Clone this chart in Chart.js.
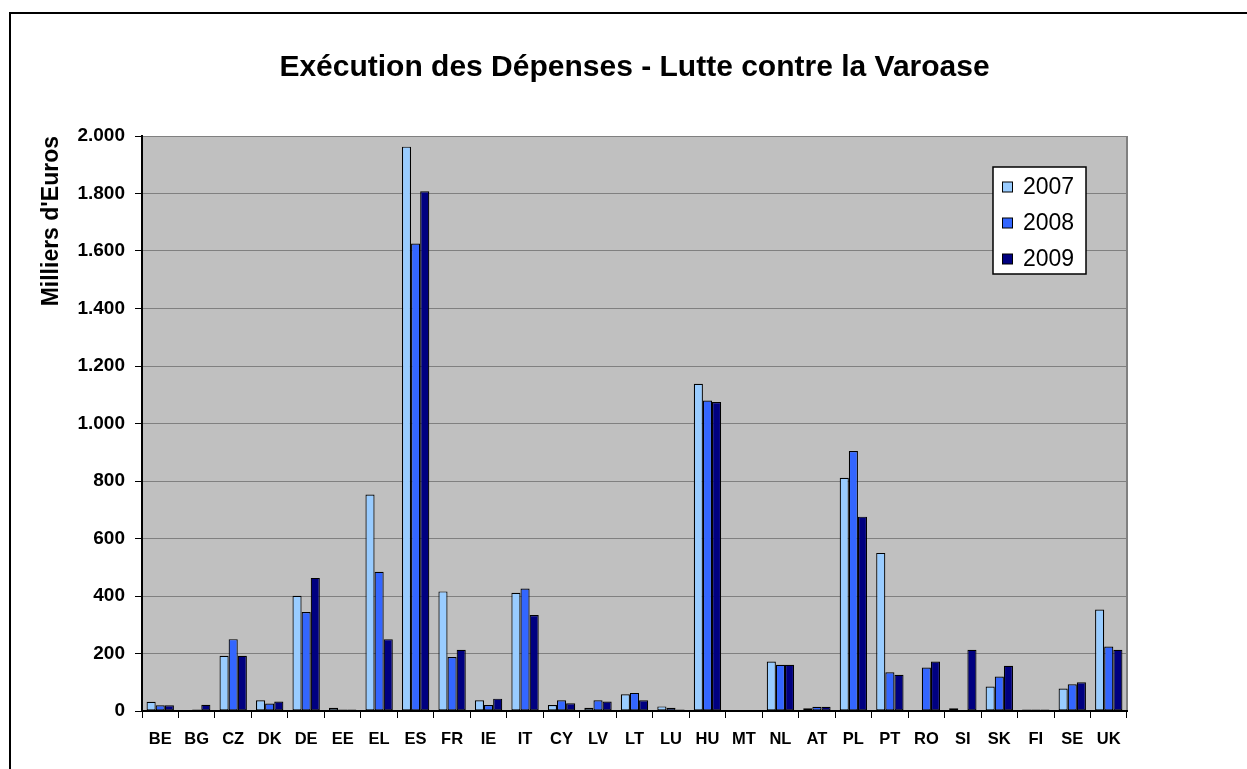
<!DOCTYPE html>
<html>
<head>
<meta charset="utf-8">
<title>Exécution des Dépenses</title>
<script src="https://cdn.jsdelivr.net/npm/chart.js@4/dist/chart.umd.min.js"></script>
<style>
  body { margin: 0; background: #fff; }
  canvas { display: block; }
</style>
</head>
<body>
<canvas id="grafico" width="1247" height="769"></canvas>
<script>
// donnees (milliers d'euros)
const pays = ['BE','BG','CZ','DK','DE','EE','EL','ES','FR','IE','IT','CY','LV','LT','LU','HU','MT','NL','AT','PL','PT','RO','SI','SK','FI','SE','UK']
const annees = ['2007','2008','2009']
const val2007 = [32, 0, 192, 37, 401, 11, 753, 1963, 416, 37, 411, 21, 11, 58, 16, 1138, 0, 172, 10, 811, 550, 0, 10, 85, 5, 78, 353]
const val2008 = [20, 5, 250, 26, 344, 5, 484, 1626, 188, 21, 426, 37, 37, 63, 11, 1080, 0, 161, 15, 904, 135, 151, 0, 120, 5, 93, 224]
const val2009 = [20, 22, 192, 33, 463, 5, 250, 1808, 213, 43, 334, 27, 33, 37, 5, 1075, 0, 161, 15, 676, 126, 172, 213, 157, 5, 100, 213]
const couleurs = ['#99CCFF', '#3366FF', '#000080']

const police = 'Liberation Sans, Arial, sans-serif'

const milliers = (v) => String(v).replace(/\B(?=(\d{3})+(?!\d))/g, '.')

// fond gris de la zone de tracé + cadre extérieur
const fondPlugin = {
    id: 'fond',
    beforeDraw(chart) {
        const {ctx, chartArea: a} = chart
        ctx.save()
        ctx.fillStyle = '#fff'
        ctx.fillRect(0, 0, chart.width, chart.height)
        ctx.strokeStyle = '#000'
        ctx.lineWidth = 2
        ctx.strokeRect(10, 13, chart.width + 20, chart.height + 20)
        ctx.fillStyle = '#C0C0C0'
        ctx.fillRect(a.left, a.top, a.right - a.left, a.bottom - a.top)
        ctx.strokeStyle = '#808080'
        ctx.beginPath()
        ctx.moveTo(a.right, a.top)
        ctx.lineTo(a.right, a.bottom)
        ctx.stroke()
        ctx.restore()
    }
}

// légende dans la zone de tracé, comme dans Excel
const legendePlugin = {
    id: 'legende',
    afterDraw(chart) {
        const ctx = chart.ctx
        const x = 993, y = 167, w = 93, h = 107
        ctx.save()
        ctx.fillStyle = '#fff'
        ctx.fillRect(x, y, w, h)
        ctx.strokeStyle = '#000'
        ctx.lineWidth = 1.5
        ctx.strokeRect(x, y, w, h)
        ctx.font = '23px ' + police
        ctx.textBaseline = 'middle'
        chart.data.datasets.forEach((ds, i) => {
            const cy = 187 + i * 36
            ctx.fillStyle = ds.backgroundColor
            ctx.fillRect(1002.5, cy - 5, 10, 10)
            ctx.lineWidth = 1
            ctx.strokeRect(1002.5, cy - 5, 10, 10)
            ctx.fillStyle = '#000'
            ctx.fillText(ds.label, 1023, cy + 1)
        })
        ctx.restore()
    }
}

const ctx = document.getElementById('grafico').getContext('2d')
const grafico = new Chart(ctx, {
    type: 'bar',
    data: {
        labels: pays,
        datasets: [
            { label: annees[0], data: val2007, backgroundColor: couleurs[0] },
            { label: annees[1], data: val2008, backgroundColor: couleurs[1] },
            { label: annees[2], data: val2009, backgroundColor: couleurs[2] }
        ]
    },
    options: {
        responsive: false,
        animation: false,
        layout: { padding: { left: 0, right: 120, top: 0, bottom: 0 } },
        datasets: {
            bar: {
                borderColor: '#000',
                borderWidth: 1.2,
                borderSkipped: false,
                categoryPercentage: 0.75,
                barPercentage: 1
            }
        },
        plugins: {
            legend: { display: false },
            tooltip: { enabled: false },
            title: {
                display: true,
                text: 'Exécution des Dépenses - Lutte contre la Varoase',
                color: '#000',
                fullSize: false,
                font: { family: police, size: 30, weight: 'bold', lineHeight: 1.2 },
                padding: { top: 50, bottom: 50 }
            }
        },
        scales: {
            x: {
                afterFit(scale) { scale.height = 58 },
                grid: { drawOnChartArea: false, drawTicks: true, tickLength: 7, tickColor: '#000', offset: true },
                border: { color: '#000', width: 2 },
                ticks: {
                    color: '#000',
                    padding: 12,
                    maxRotation: 0,
                    autoSkip: false,
                    font: { family: police, size: 16.5, weight: 'bold' }
                }
            },
            y: {
                min: 0,
                max: 2000,
                afterFit(scale) { scale.width = 142 },
                grid: { color: '#808080', lineWidth: 1, tickLength: 7, tickColor: '#000' },
                border: { color: '#000', width: 2 },
                ticks: {
                    stepSize: 200,
                    color: '#000',
                    padding: 10,
                    font: { family: police, size: 19, weight: 'bold' },
                    callback: (v) => milliers(v)
                },
                title: {
                    display: true,
                    text: "Milliers d'Euros",
                    align: 'end',
                    color: '#000',
                    font: { family: police, size: 23, weight: 'bold', lineHeight: 1.2 },
                    padding: { top: 38, bottom: 0 }
                }
            }
        }
    },
    plugins: [fondPlugin, legendePlugin]
})
</script>
</body>
</html>
